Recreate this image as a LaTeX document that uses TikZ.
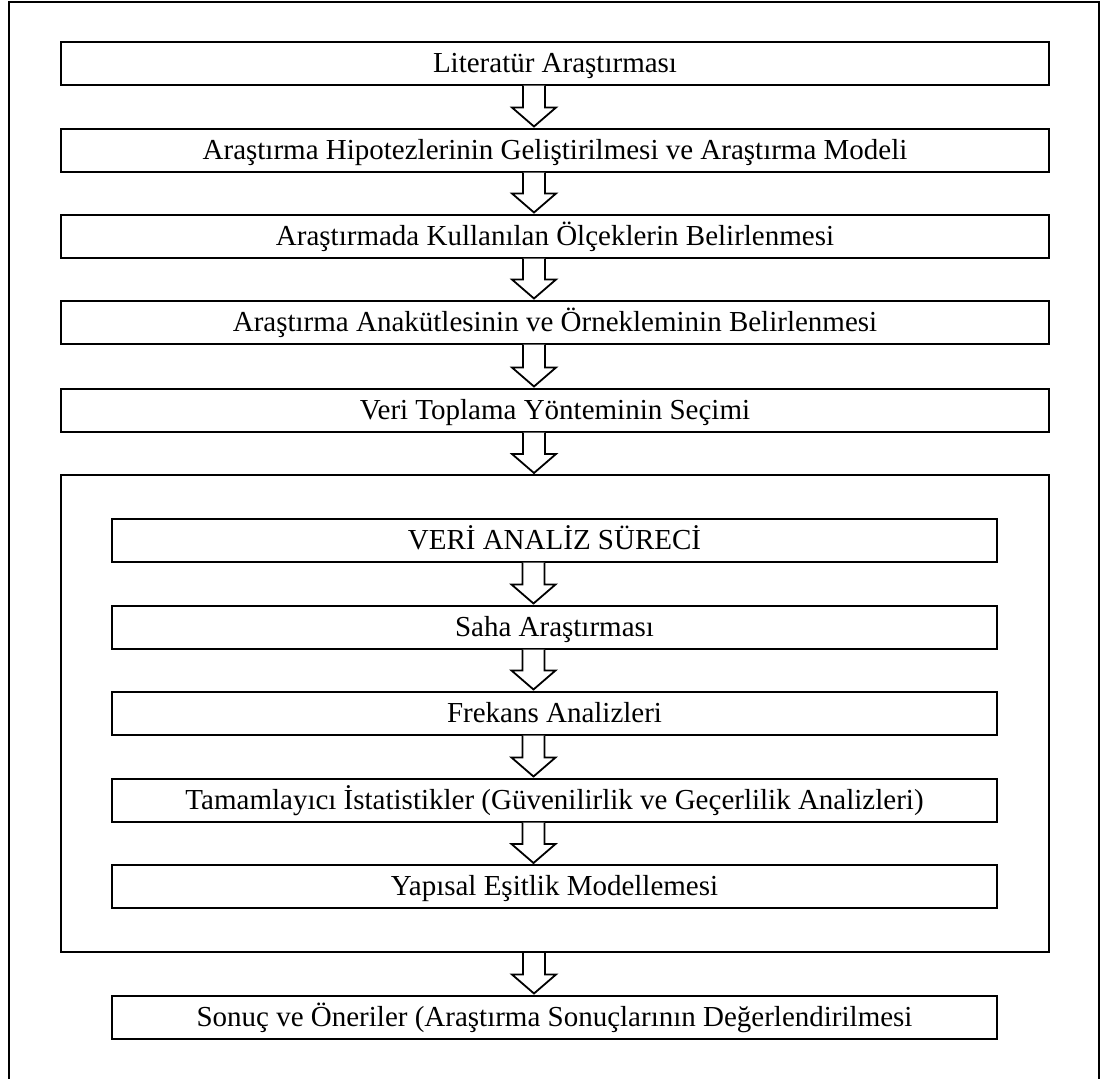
\documentclass[tikz,border=0pt]{standalone}
\usepackage{fontspec}
\setmainfont{Liberation Serif}
\usepackage{tikz}
\usetikzlibrary{calc,positioning}
\tikzstyle{stepbox} = [draw, rectangle, line width=2pt, minimum height=43pt, inner sep=0, text height=21pt, text depth=3pt, font=\fontsize{29}{34}\selectfont]
\tikzstyle{analysisframe} = [draw, rectangle, line width=2pt, minimum width=988pt, minimum height=477pt, inner sep=0]
\tikzstyle{arrowline} = [draw, line width=1.8pt, fill=white, line join=miter]
% hollow block arrow from the bottom of #1 to the top of #2
\newcommand{\flowarrow}[2]{%
  \draw[arrowline] let \p1=(#1.south), \p2=(#2.north) in
    (\x1-32pt,\y1) -- (\x1-32pt,\y2+20pt) -- (\x1-43pt,\y2+20pt) -- (\x1-21pt,\y2+1pt)
    -- (\x1+1pt,\y2+20pt) -- (\x1-10pt,\y2+20pt) -- (\x1-10pt,\y1);%
}

\begin{document}
\begin{tikzpicture}[x=1pt,y=-1pt]
    \useasboundingbox (0,0) rectangle (1101,1079);
    % Outer frame
    \draw[line width=2pt] (9,1090) -- (9,2) -- (1099,2) -- (1099,1090);
    % Research steps
    \node[stepbox, minimum width=988pt] (lit) at (555,63) {Literatür Araştırması};
    \node[stepbox, minimum width=988pt] (hyp) at (555,150) {Araştırma Hipotezlerinin Geliştirilmesi ve Araştırma Modeli};
    \node[stepbox, minimum width=988pt] (scale) at (555,236) {Araştırmada Kullanılan Ölçeklerin Belirlenmesi};
    \node[stepbox, minimum width=988pt] (sample) at (555,322) {Araştırma Anakütlesinin ve Örnekleminin Belirlenmesi};
    \node[stepbox, minimum width=988pt] (collect) at (555,410) {Veri Toplama Yönteminin Seçimi};
    % Data analysis block
    \node[analysisframe] (analysis) at (555,713.5) {};
    \node[stepbox, minimum width=885pt] (process) at (554.5,540) {VERİ ANALİZ SÜRECİ};
    \node[stepbox, minimum width=885pt] (field) at (554.5,627) {Saha Araştırması};
    \node[stepbox, minimum width=885pt] (freq) at (554.5,713) {Frekans Analizleri};
    \node[stepbox, minimum width=885pt] (stats) at (554.5,800) {Tamamlayıcı İstatistikler (Güvenilirlik ve Geçerlilik Analizleri)};
    \node[stepbox, minimum width=885pt] (sem) at (554.5,886.5) {Yapısal Eşitlik Modellemesi};
    % Results
    \node[stepbox, minimum width=885pt] (result) at (554.5,1017) {Sonuç ve Öneriler (Araştırma Sonuçlarının Değerlendirilmesi};
    % Arrows
    \flowarrow{lit}{hyp}
    \flowarrow{hyp}{scale}
    \flowarrow{scale}{sample}
    \flowarrow{sample}{collect}
    \flowarrow{collect}{analysis}
    \flowarrow{process}{field}
    \flowarrow{field}{freq}
    \flowarrow{freq}{stats}
    \flowarrow{stats}{sem}
    \flowarrow{analysis}{result}
\end{tikzpicture}
\end{document}
